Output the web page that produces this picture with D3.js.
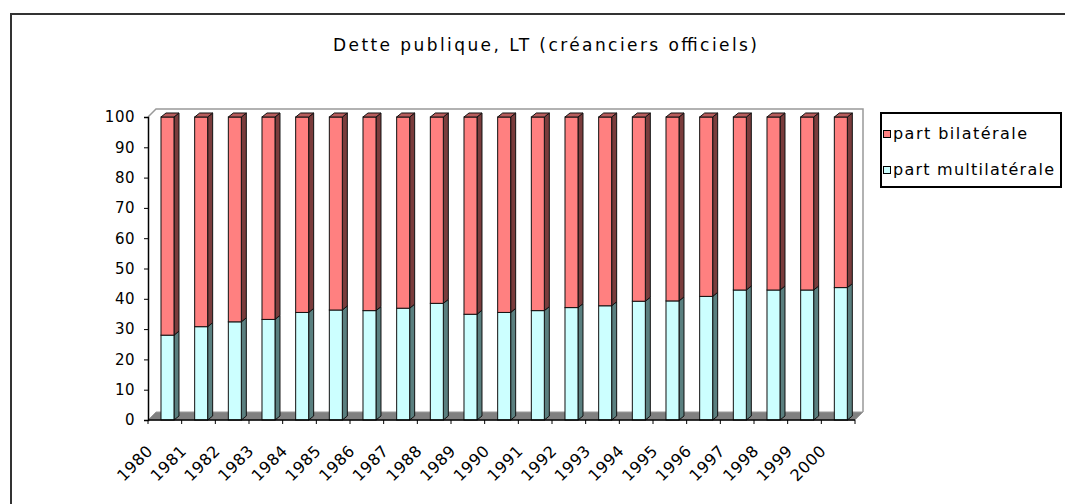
<!DOCTYPE html>
<html>
<head>
<meta charset="utf-8">
<script src="https://cdn.jsdelivr.net/npm/d3@7"></script>
<style>
  body { margin: 0; background: #fff; }
  svg text { font-family: "DejaVu Sans", sans-serif; fill: #000; }
</style>
</head>
<body>
<svg id="chart" width="1065" height="504"></svg>
<script>
'use strict'

const title = 'Dette publique, LT (créanciers officiels)'
const years = ['1980', '1981', '1982', '1983', '1984', '1985', '1986', '1987', '1988', '1989', '1990',
  '1991', '1992', '1993', '1994', '1995', '1996', '1997', '1998', '1999', '2000']
const multilateral = [28.0, 30.8, 32.4, 33.2, 35.5, 36.3, 36.1, 36.9, 38.5, 34.9, 35.5,
  36.1, 37.1, 37.7, 39.2, 39.3, 40.8, 42.9, 42.9, 42.9, 43.7]
const bilateral = [72.0, 69.2, 67.6, 66.8, 64.5, 63.7, 63.9, 63.1, 61.5, 65.1, 64.5,
  63.9, 62.9, 62.3, 60.8, 60.7, 59.2, 57.1, 57.1, 57.1, 56.3]
const yTicks = [0, 10, 20, 30, 40, 50, 60, 70, 80, 90, 100]
const seriesNames = ['part bilatérale', 'part multilatérale']

const colors = {
  bilateral: { front: '#ff8080', side: '#7a3c3c', top: '#b85c5c' },
  multilateral: { front: '#ccffff', side: '#5a7f7f', top: '#99c0c0' }
}

const svg = d3.select('#chart')

// outer frame (right and bottom fall outside the picture)
svg.append('rect')
  .attr('x', 11).attr('y', 14)
  .attr('width', 1070).attr('height', 500)
  .attr('fill', 'none').attr('stroke', '#333').attr('stroke-width', 2)

// title, stretched like the bitmap font of the original
svg.append('text')
  .attr('x', 545).attr('y', 51)
  .attr('text-anchor', 'middle')
  .attr('font-size', 17)
  .attr('textLength', 424).attr('lengthAdjust', 'spacing')
  .text(title)

// scales
const x = d3.scaleBand().domain(years).range([148, 855])
const y = d3.scaleLinear().domain([0, 100]).range([420, 117])
const depth = { dx: 8, dy: -8 }   // wall / floor depth
const bar = { dx: 5, dy: -4 }     // bar depth
const barW = x.bandwidth() * 0.386
const barOff = x.bandwidth() * 0.386

const plot = svg.append('g')

// back wall outline and floor
const x0 = x.range()[0], x1 = x.range()[1]
plot.append('path')
  .attr('d', `M${x0},${y(100)} L${x0 + depth.dx},${y(100) + depth.dy} L${x1 + depth.dx},${y(100) + depth.dy} L${x1 + depth.dx},${y(0) + depth.dy}`)
  .attr('fill', 'none').attr('stroke', '#999').attr('stroke-width', 1.5)
plot.append('path')
  .attr('d', `M${x0},${y(0)} L${x1},${y(0)} L${x1 + depth.dx},${y(0) + depth.dy} L${x0 + depth.dx},${y(0) + depth.dy} Z`)
  .attr('fill', '#808080').attr('stroke', '#999').attr('stroke-width', 1)

// stacked bars, multilateral at the bottom
const stacks = years.map((yr, i) => ({
  year: yr,
  segs: [
    { key: 'multilateral', lo: 0, hi: multilateral[i] },
    { key: 'bilateral', lo: multilateral[i], hi: multilateral[i] + bilateral[i] }
  ]
}))

const g = plot.selectAll('g.bar')
  .data(stacks)
  .enter().append('g')
  .attr('class', 'bar')

g.each(function (d) {
  const el = d3.select(this)
  const bx = x(d.year) + barOff
  d.segs.forEach((s, j) => {
    const yt = y(s.hi), yb = y(s.lo)
    // side face
    el.append('path')
      .attr('d', `M${bx + barW},${yb} L${bx + barW + bar.dx},${yb + bar.dy} L${bx + barW + bar.dx},${yt + bar.dy} L${bx + barW},${yt} Z`)
      .attr('fill', colors[s.key].side).attr('stroke', '#111').attr('stroke-width', 1)
    // front face
    el.append('rect')
      .attr('x', bx).attr('y', yt)
      .attr('width', barW).attr('height', yb - yt)
      .attr('fill', colors[s.key].front).attr('stroke', '#111').attr('stroke-width', 1)
    // top cap on the upper segment
    if (j === d.segs.length - 1) {
      el.append('path')
        .attr('d', `M${bx},${yt} L${bx + bar.dx},${yt + bar.dy} L${bx + barW + bar.dx},${yt + bar.dy} L${bx + barW},${yt} Z`)
        .attr('fill', colors[s.key].top).attr('stroke', '#111').attr('stroke-width', 1)
    }
  })
})

// y axis
const yAxis = svg.append('g')
  .attr('transform', `translate(${x0},0)`)
  .call(d3.axisLeft(y).tickValues(yTicks).tickSize(4).tickPadding(9))
yAxis.select('.domain').attr('stroke', '#000').attr('stroke-width', 1.5)
yAxis.selectAll('.tick line').attr('stroke', '#000')
yAxis.selectAll('text').attr('font-size', 15).attr('font-family', 'DejaVu Sans').attr('fill', '#000')
  .attr('letter-spacing', 0.5)

// x axis: ticks on category boundaries
svg.append('line')
  .attr('x1', x0).attr('x2', x1).attr('y1', y(0)).attr('y2', y(0))
  .attr('stroke', '#000').attr('stroke-width', 1.5)
svg.selectAll('line.xtick')
  .data(years.concat(['end']))
  .enter().append('line')
  .attr('class', 'xtick')
  .attr('x1', (d, i) => x0 + i * x.bandwidth())
  .attr('x2', (d, i) => x0 + i * x.bandwidth())
  .attr('y1', y(0)).attr('y2', y(0) + 4)
  .attr('stroke', '#000')

svg.selectAll('text.xlab')
  .data(years)
  .enter().append('text')
  .attr('class', 'xlab')
  .attr('font-size', 16)
  .attr('letter-spacing', 0.5)
  .attr('text-anchor', 'end')
  .attr('transform', d => `translate(${x(d) + x.bandwidth() / 2 - 11},452) rotate(-45)`)
  .text(d => d)

// legend
const legend = svg.append('g').attr('transform', 'translate(881,113)')
legend.append('rect')
  .attr('width', 180).attr('height', 74)
  .attr('fill', '#fff').attr('stroke', '#000').attr('stroke-width', 2)
const legendWidths = [134, 161]
const items = legend.selectAll('g.item')
  .data(seriesNames)
  .enter().append('g')
  .attr('class', 'item')
  .attr('transform', (d, i) => `translate(0,${21 + i * 36})`)
items.append('rect')
  .attr('x', 2.5).attr('y', -3.5).attr('width', 7).attr('height', 7)
  .attr('fill', (d, i) => i === 0 ? colors.bilateral.front : colors.multilateral.front)
  .attr('stroke', '#000')
items.append('text')
  .attr('x', 12).attr('y', 5)
  .attr('font-size', 16)
  .attr('textLength', (d, i) => legendWidths[i]).attr('lengthAdjust', 'spacing')
  .text(d => d)
</script>
</body>
</html>
